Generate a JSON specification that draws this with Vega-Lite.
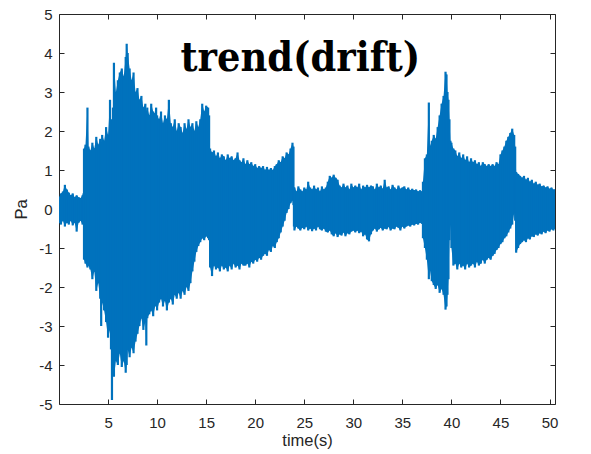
{
  "$schema": "https://vega.github.io/schema/vega-lite/v6.json",
  "autosize": {"type": "none"},
  "padding": {"left": 59, "top": 14, "right": 36, "bottom": 50},
  "width": 496,
  "height": 390,
  "background": "white",
  "config": {
    "view": {"stroke": "#262626", "strokeWidth": 1},
    "axis": {
      "grid": false,
      "domain": false,
      "labelFont": "Liberation Sans",
      "labelFontSize": 15,
      "labelColor": "#262626",
      "labelExpr": "datum.value + ''",
      "titleFont": "Liberation Sans",
      "titleFontSize": 16.5,
      "titleFontWeight": "normal",
      "titleColor": "#262626",
      "tickColor": "#262626",
      "tickWidth": 1,
      "tickSize": -5
    }
  },
  "datasets": {
    "signal": [
      {"t":0,"hi":0.30,"lo":-0.35},{"t":0.2,"hi":0.40,"lo":-0.40},{"t":0.4,"hi":0.45,"lo":-0.30},{"t":0.6,"hi":0.62,"lo":-0.45},
      {"t":0.8,"hi":0.50,"lo":-0.35},{"t":1.0,"hi":0.42,"lo":-0.40},{"t":1.2,"hi":0.35,"lo":-0.30},{"t":1.4,"hi":0.40,"lo":-0.42},
      {"t":1.6,"hi":0.30,"lo":-0.35},{"t":1.8,"hi":0.35,"lo":-0.58},{"t":2.0,"hi":0.30,"lo":-0.35},{"t":2.2,"hi":0.28,"lo":-0.30},
      {"t":2.4,"hi":0.35,"lo":-0.40},{"t":2.5,"hi":0.40,"lo":-0.35},
      {"t":2.55,"hi":1.55,"lo":-1.30},{"t":2.7,"hi":1.65,"lo":-1.40},{"t":2.9,"hi":2.60,"lo":-1.50},{"t":3.0,"hi":1.60,"lo":-1.45},
      {"t":3.2,"hi":1.50,"lo":-1.55},{"t":3.4,"hi":1.70,"lo":-1.80},{"t":3.6,"hi":1.55,"lo":-1.60},{"t":3.8,"hi":1.85,"lo":-2.10},
      {"t":4.0,"hi":1.65,"lo":-1.90},{"t":4.2,"hi":1.80,"lo":-2.30},{"t":4.3,"hi":1.70,"lo":-3.00},{"t":4.4,"hi":1.90,"lo":-2.40},
      {"t":4.6,"hi":1.75,"lo":-2.60},{"t":4.8,"hi":2.10,"lo":-2.90},{"t":5.0,"hi":1.90,"lo":-3.30},{"t":5.2,"hi":2.80,"lo":-3.10},
      {"t":5.3,"hi":2.20,"lo":-3.60},{"t":5.4,"hi":2.30,"lo":-4.90},{"t":5.5,"hi":2.60,"lo":-3.80},{"t":5.6,"hi":3.75,"lo":-4.30},
      {"t":5.8,"hi":3.00,"lo":-3.90},{"t":6.0,"hi":3.30,"lo":-4.00},{"t":6.2,"hi":3.50,"lo":-3.70},{"t":6.4,"hi":3.60,"lo":-4.05},
      {"t":6.6,"hi":3.40,"lo":-3.90},{"t":6.8,"hi":3.90,"lo":-4.20},{"t":6.9,"hi":4.24,"lo":-4.00},{"t":7.0,"hi":4.00,"lo":-3.60},
      {"t":7.2,"hi":3.60,"lo":-3.80},{"t":7.4,"hi":3.30,"lo":-3.55},{"t":7.6,"hi":3.50,"lo":-3.70},{"t":7.8,"hi":3.00,"lo":-3.40},
      {"t":8.0,"hi":3.10,"lo":-3.20},{"t":8.2,"hi":2.80,"lo":-3.00},{"t":8.4,"hi":2.90,"lo":-2.80},{"t":8.6,"hi":2.60,"lo":-3.10},
      {"t":8.8,"hi":2.70,"lo":-2.90},{"t":8.9,"hi":2.50,"lo":-3.50},{"t":9.0,"hi":2.60,"lo":-2.80},{"t":9.2,"hi":2.40,"lo":-2.70},
      {"t":9.4,"hi":2.70,"lo":-2.60},{"t":9.6,"hi":2.50,"lo":-2.75},{"t":9.8,"hi":2.45,"lo":-2.50},{"t":9.9,"hi":2.60,"lo":-2.20},
      {"t":10.0,"hi":2.40,"lo":-2.60},{"t":10.2,"hi":2.30,"lo":-2.40},{"t":10.4,"hi":2.50,"lo":-2.30},{"t":10.6,"hi":2.20,"lo":-2.50},
      {"t":10.8,"hi":2.40,"lo":-2.35},{"t":11.0,"hi":2.30,"lo":-2.60},{"t":11.2,"hi":2.80,"lo":-2.40},{"t":11.4,"hi":2.20,"lo":-2.30},
      {"t":11.6,"hi":2.10,"lo":-2.45},{"t":11.8,"hi":2.30,"lo":-2.20},{"t":12.0,"hi":2.00,"lo":-2.30},{"t":12.2,"hi":2.20,"lo":-2.15},
      {"t":12.4,"hi":2.10,"lo":-2.30},{"t":12.6,"hi":1.95,"lo":-2.10},{"t":12.8,"hi":2.20,"lo":-2.20},{"t":13.0,"hi":2.05,"lo":-2.00},
      {"t":13.2,"hi":2.30,"lo":-2.10},{"t":13.4,"hi":2.10,"lo":-1.90},{"t":13.6,"hi":2.20,"lo":-1.60},{"t":13.8,"hi":2.00,"lo":-1.35},
      {"t":14.0,"hi":2.25,"lo":-1.10},{"t":14.2,"hi":2.10,"lo":-0.95},{"t":14.4,"hi":2.30,"lo":-0.85},{"t":14.6,"hi":2.70,"lo":-0.75},
      {"t":14.8,"hi":2.50,"lo":-0.80},{"t":15.0,"hi":2.65,"lo":-0.70},{"t":15.2,"hi":2.60,"lo":-0.75},{"t":15.3,"hi":2.40,"lo":-0.80},
      {"t":15.4,"hi":1.55,"lo":-1.50},{"t":15.6,"hi":1.45,"lo":-1.72},{"t":15.8,"hi":1.50,"lo":-1.45},{"t":16.0,"hi":1.35,"lo":-1.55},
      {"t":16.2,"hi":1.45,"lo":-1.50},{"t":16.4,"hi":1.30,"lo":-1.60},{"t":16.6,"hi":1.40,"lo":-1.45},{"t":16.8,"hi":1.35,"lo":-1.55},
      {"t":17.0,"hi":1.25,"lo":-1.50},{"t":17.2,"hi":1.40,"lo":-1.60},{"t":17.4,"hi":1.30,"lo":-1.45},{"t":17.6,"hi":1.35,"lo":-1.55},
      {"t":17.8,"hi":1.25,"lo":-1.40},{"t":18.0,"hi":1.30,"lo":-1.50},{"t":18.2,"hi":1.45,"lo":-1.45},{"t":18.4,"hi":1.25,"lo":-1.55},
      {"t":18.6,"hi":1.20,"lo":-1.40},{"t":18.8,"hi":1.30,"lo":-1.45},{"t":19.0,"hi":1.15,"lo":-1.45},{"t":19.2,"hi":1.25,"lo":-1.40},
      {"t":19.4,"hi":1.15,"lo":-1.50},{"t":19.6,"hi":1.20,"lo":-1.35},{"t":19.8,"hi":1.10,"lo":-1.40},{"t":20.0,"hi":1.15,"lo":-1.30},
      {"t":20.2,"hi":1.05,"lo":-1.35},{"t":20.4,"hi":1.10,"lo":-1.25},{"t":20.6,"hi":1.05,"lo":-1.30},{"t":20.8,"hi":1.10,"lo":-1.20},
      {"t":21.0,"hi":1.00,"lo":-1.15},{"t":21.2,"hi":1.08,"lo":-1.20},{"t":21.4,"hi":1.00,"lo":-1.05},{"t":21.6,"hi":1.05,"lo":-1.10},
      {"t":21.8,"hi":1.00,"lo":-0.95},{"t":22.0,"hi":1.10,"lo":-1.00},{"t":22.2,"hi":1.15,"lo":-0.85},{"t":22.4,"hi":1.25,"lo":-0.75},
      {"t":22.6,"hi":1.20,"lo":-0.60},{"t":22.8,"hi":1.35,"lo":-0.45},{"t":23.0,"hi":1.30,"lo":-0.30},{"t":23.2,"hi":1.45,"lo":-0.10},
      {"t":23.4,"hi":1.40,"lo":0.00},{"t":23.6,"hi":1.55,"lo":0.15},{"t":23.8,"hi":1.70,"lo":0.22},{"t":23.9,"hi":1.60,"lo":0.10},
      {"t":23.95,"hi":0.55,"lo":-0.45},{"t":24.0,"hi":0.55,"lo":-0.55},{"t":24.2,"hi":0.45,"lo":-0.45},{"t":24.4,"hi":0.58,"lo":-0.50},
      {"t":24.6,"hi":0.50,"lo":-0.55},{"t":24.8,"hi":0.45,"lo":-0.48},{"t":25.0,"hi":0.55,"lo":-0.52},{"t":25.2,"hi":0.50,"lo":-0.45},
      {"t":25.4,"hi":0.70,"lo":-0.55},{"t":25.6,"hi":0.55,"lo":-0.50},{"t":25.8,"hi":0.50,"lo":-0.57},{"t":26.0,"hi":0.60,"lo":-0.50},
      {"t":26.2,"hi":0.50,"lo":-0.55},{"t":26.4,"hi":0.55,"lo":-0.45},{"t":26.6,"hi":0.45,"lo":-0.52},{"t":26.8,"hi":0.58,"lo":-0.55},
      {"t":27.0,"hi":0.50,"lo":-0.50},{"t":27.2,"hi":0.55,"lo":-0.58},{"t":27.4,"hi":0.70,"lo":-0.60},{"t":27.6,"hi":0.85,"lo":-0.55},
      {"t":27.8,"hi":0.80,"lo":-0.65},{"t":28.0,"hi":0.88,"lo":-0.70},{"t":28.2,"hi":0.80,"lo":-0.62},{"t":28.4,"hi":0.75,"lo":-0.72},
      {"t":28.6,"hi":0.60,"lo":-0.65},{"t":28.8,"hi":0.55,"lo":-0.68},{"t":29.0,"hi":0.65,"lo":-0.60},{"t":29.2,"hi":0.55,"lo":-0.70},
      {"t":29.4,"hi":0.60,"lo":-0.62},{"t":29.6,"hi":0.50,"lo":-0.65},{"t":29.8,"hi":0.65,"lo":-0.58},{"t":30.0,"hi":0.55,"lo":-0.55},
      {"t":30.2,"hi":0.60,"lo":-0.60},{"t":30.4,"hi":0.55,"lo":-0.55},{"t":30.6,"hi":0.65,"lo":-0.62},{"t":30.8,"hi":0.50,"lo":-0.58},
      {"t":31.0,"hi":0.60,"lo":-0.70},{"t":31.2,"hi":0.55,"lo":-0.65},{"t":31.4,"hi":0.62,"lo":-0.78},{"t":31.6,"hi":0.55,"lo":-0.83},
      {"t":31.8,"hi":0.60,"lo":-0.65},{"t":32.0,"hi":0.58,"lo":-0.55},{"t":32.2,"hi":0.50,"lo":-0.50},{"t":32.4,"hi":0.65,"lo":-0.58},
      {"t":32.6,"hi":0.55,"lo":-0.52},{"t":32.8,"hi":0.60,"lo":-0.48},{"t":33.0,"hi":0.52,"lo":-0.55},{"t":33.2,"hi":0.75,"lo":-0.50},
      {"t":33.4,"hi":0.55,"lo":-0.52},{"t":33.6,"hi":0.58,"lo":-0.46},{"t":33.8,"hi":0.50,"lo":-0.55},{"t":34.0,"hi":0.62,"lo":-0.50},
      {"t":34.2,"hi":0.55,"lo":-0.52},{"t":34.4,"hi":0.50,"lo":-0.45},{"t":34.6,"hi":0.60,"lo":-0.48},{"t":34.8,"hi":0.52,"lo":-0.55},
      {"t":35.0,"hi":0.55,"lo":-0.45},{"t":35.2,"hi":0.58,"lo":-0.50},{"t":35.4,"hi":0.50,"lo":-0.45},{"t":35.6,"hi":0.55,"lo":-0.42},
      {"t":35.8,"hi":0.48,"lo":-0.45},{"t":36.0,"hi":0.52,"lo":-0.40},{"t":36.2,"hi":0.48,"lo":-0.42},{"t":36.4,"hi":0.50,"lo":-0.38},
      {"t":36.6,"hi":0.45,"lo":-0.40},{"t":36.8,"hi":0.48,"lo":-0.35},{"t":37.0,"hi":0.45,"lo":-0.38},
      {"t":37.1,"hi":0.70,"lo":-0.75},{"t":37.3,"hi":1.30,"lo":-1.00},{"t":37.5,"hi":1.40,"lo":-1.30},{"t":37.7,"hi":2.73,"lo":-1.80},
      {"t":37.8,"hi":1.60,"lo":-1.55},{"t":38.0,"hi":1.75,"lo":-1.85},{"t":38.2,"hi":1.90,"lo":-1.95},{"t":38.4,"hi":1.80,"lo":-2.05},
      {"t":38.6,"hi":2.10,"lo":-1.95},{"t":38.8,"hi":2.40,"lo":-2.15},{"t":39.0,"hi":2.70,"lo":-2.05},{"t":39.2,"hi":2.90,"lo":-2.20},
      {"t":39.4,"hi":3.52,"lo":-2.58},{"t":39.5,"hi":3.45,"lo":-2.50},{"t":39.6,"hi":3.00,"lo":-2.20},{"t":39.7,"hi":2.80,"lo":-1.80},
      {"t":39.8,"hi":2.30,"lo":-0.80},{"t":39.9,"hi":1.75,"lo":-0.40},{"t":40.0,"hi":1.70,"lo":-1.00},{"t":40.2,"hi":1.55,"lo":-1.45},
      {"t":40.4,"hi":1.50,"lo":-1.40},{"t":40.6,"hi":1.35,"lo":-1.55},{"t":40.8,"hi":1.45,"lo":-1.40},{"t":41.0,"hi":1.30,"lo":-1.50},
      {"t":41.2,"hi":1.40,"lo":-1.45},{"t":41.4,"hi":1.25,"lo":-1.55},{"t":41.6,"hi":1.35,"lo":-1.40},{"t":41.8,"hi":1.20,"lo":-1.50},
      {"t":42.0,"hi":1.30,"lo":-1.45},{"t":42.2,"hi":1.20,"lo":-1.40},{"t":42.4,"hi":1.25,"lo":-1.50},{"t":42.6,"hi":1.15,"lo":-1.35},
      {"t":42.8,"hi":1.20,"lo":-1.45},{"t":43.0,"hi":1.10,"lo":-1.40},{"t":43.2,"hi":1.20,"lo":-1.30},{"t":43.4,"hi":1.15,"lo":-1.40},
      {"t":43.6,"hi":1.10,"lo":-1.30},{"t":43.8,"hi":1.15,"lo":-1.25},{"t":44.0,"hi":1.10,"lo":-1.30},{"t":44.2,"hi":1.15,"lo":-1.20},
      {"t":44.4,"hi":1.10,"lo":-1.15},{"t":44.6,"hi":1.20,"lo":-1.05},{"t":44.8,"hi":1.15,"lo":-1.00},{"t":45.0,"hi":1.40,"lo":-0.90},
      {"t":45.2,"hi":1.50,"lo":-0.85},{"t":45.4,"hi":1.60,"lo":-0.75},{"t":45.6,"hi":1.75,"lo":-0.70},{"t":45.8,"hi":1.85,"lo":-0.60},
      {"t":46.0,"hi":1.95,"lo":-0.50},{"t":46.2,"hi":2.06,"lo":-0.40},{"t":46.4,"hi":1.90,"lo":-0.10},{"t":46.5,"hi":1.60,"lo":-0.30},
      {"t":46.6,"hi":0.95,"lo":-1.12},{"t":46.8,"hi":0.90,"lo":-1.00},{"t":47.0,"hi":0.85,"lo":-0.90},{"t":47.2,"hi":0.80,"lo":-0.85},
      {"t":47.4,"hi":0.85,"lo":-0.80},{"t":47.6,"hi":0.75,"lo":-0.85},{"t":47.8,"hi":0.80,"lo":-0.75},{"t":48.0,"hi":0.70,"lo":-0.78},
      {"t":48.2,"hi":0.75,"lo":-0.70},{"t":48.4,"hi":0.65,"lo":-0.72},{"t":48.6,"hi":0.70,"lo":-0.65},{"t":48.8,"hi":0.62,"lo":-0.68},
      {"t":49.0,"hi":0.65,"lo":-0.62},{"t":49.2,"hi":0.58,"lo":-0.65},{"t":49.4,"hi":0.60,"lo":-0.58},{"t":49.6,"hi":0.55,"lo":-0.62},
      {"t":49.8,"hi":0.58,"lo":-0.55},{"t":50.0,"hi":0.52,"lo":-0.58},{"t":50.2,"hi":0.55,"lo":-0.52},{"t":50.4,"hi":0.50,"lo":-0.55},
      {"t":50.56,"hi":0.50,"lo":-0.50}
    ]
  },
  "layer": [
    {
      "data": {"name": "signal"},
      "mark": {"type": "area", "color": "#0072BD", "interpolate": "linear", "clip": true},
      "encoding": {
        "x": {
          "field": "t", "type": "quantitative",
          "scale": {"domain": [0, 50.56], "nice": false, "zero": false},
          "axis": {"orient": "bottom", "title": "time(s)", "values": [5,10,15,20,25,30,35,40,45,50], "labelPadding": 16, "titlePadding": 2}
        },
        "y": {
          "field": "hi", "type": "quantitative",
          "scale": {"domain": [-5, 5], "nice": false, "zero": false},
          "axis": {"orient": "left", "title": "Pa", "values": [-5,-4,-3,-2,-1,0,1,2,3,4,5], "labelPadding": 12, "titlePadding": 9}
        },
        "y2": {"field": "lo"}
      }
    },
    {
      "data": {"name": "signal"},
      "mark": {"type": "rule", "color": "#0072BD", "strokeWidth": 2.2, "clip": true},
      "encoding": {
        "x": {"field": "t", "type": "quantitative", "axis": null},
        "y": {"field": "hi", "type": "quantitative", "axis": null},
        "y2": {"field": "lo"}
      }
    },
    {
      "data": {"values": [{"label": "trend(drift)"}]},
      "mark": {"type": "text", "font": "DejaVu Serif Condensed", "fontSize": 41, "fontWeight": "bold", "align": "center", "baseline": "alphabetic", "color": "#000000"},
      "encoding": {
        "x": {"datum": 24.6, "type": "quantitative", "axis": {"orient": "top", "title": null, "labels": false, "values": [5,10,15,20,25,30,35,40,45,50]}},
        "y": {"datum": 3.53, "type": "quantitative", "axis": {"orient": "right", "title": null, "labels": false, "values": [-5,-4,-3,-2,-1,0,1,2,3,4,5]}},
        "text": {"field": "label"}
      }
    }
  ],
  "resolve": {"axis": {"x": "independent", "y": "independent"}}
}
